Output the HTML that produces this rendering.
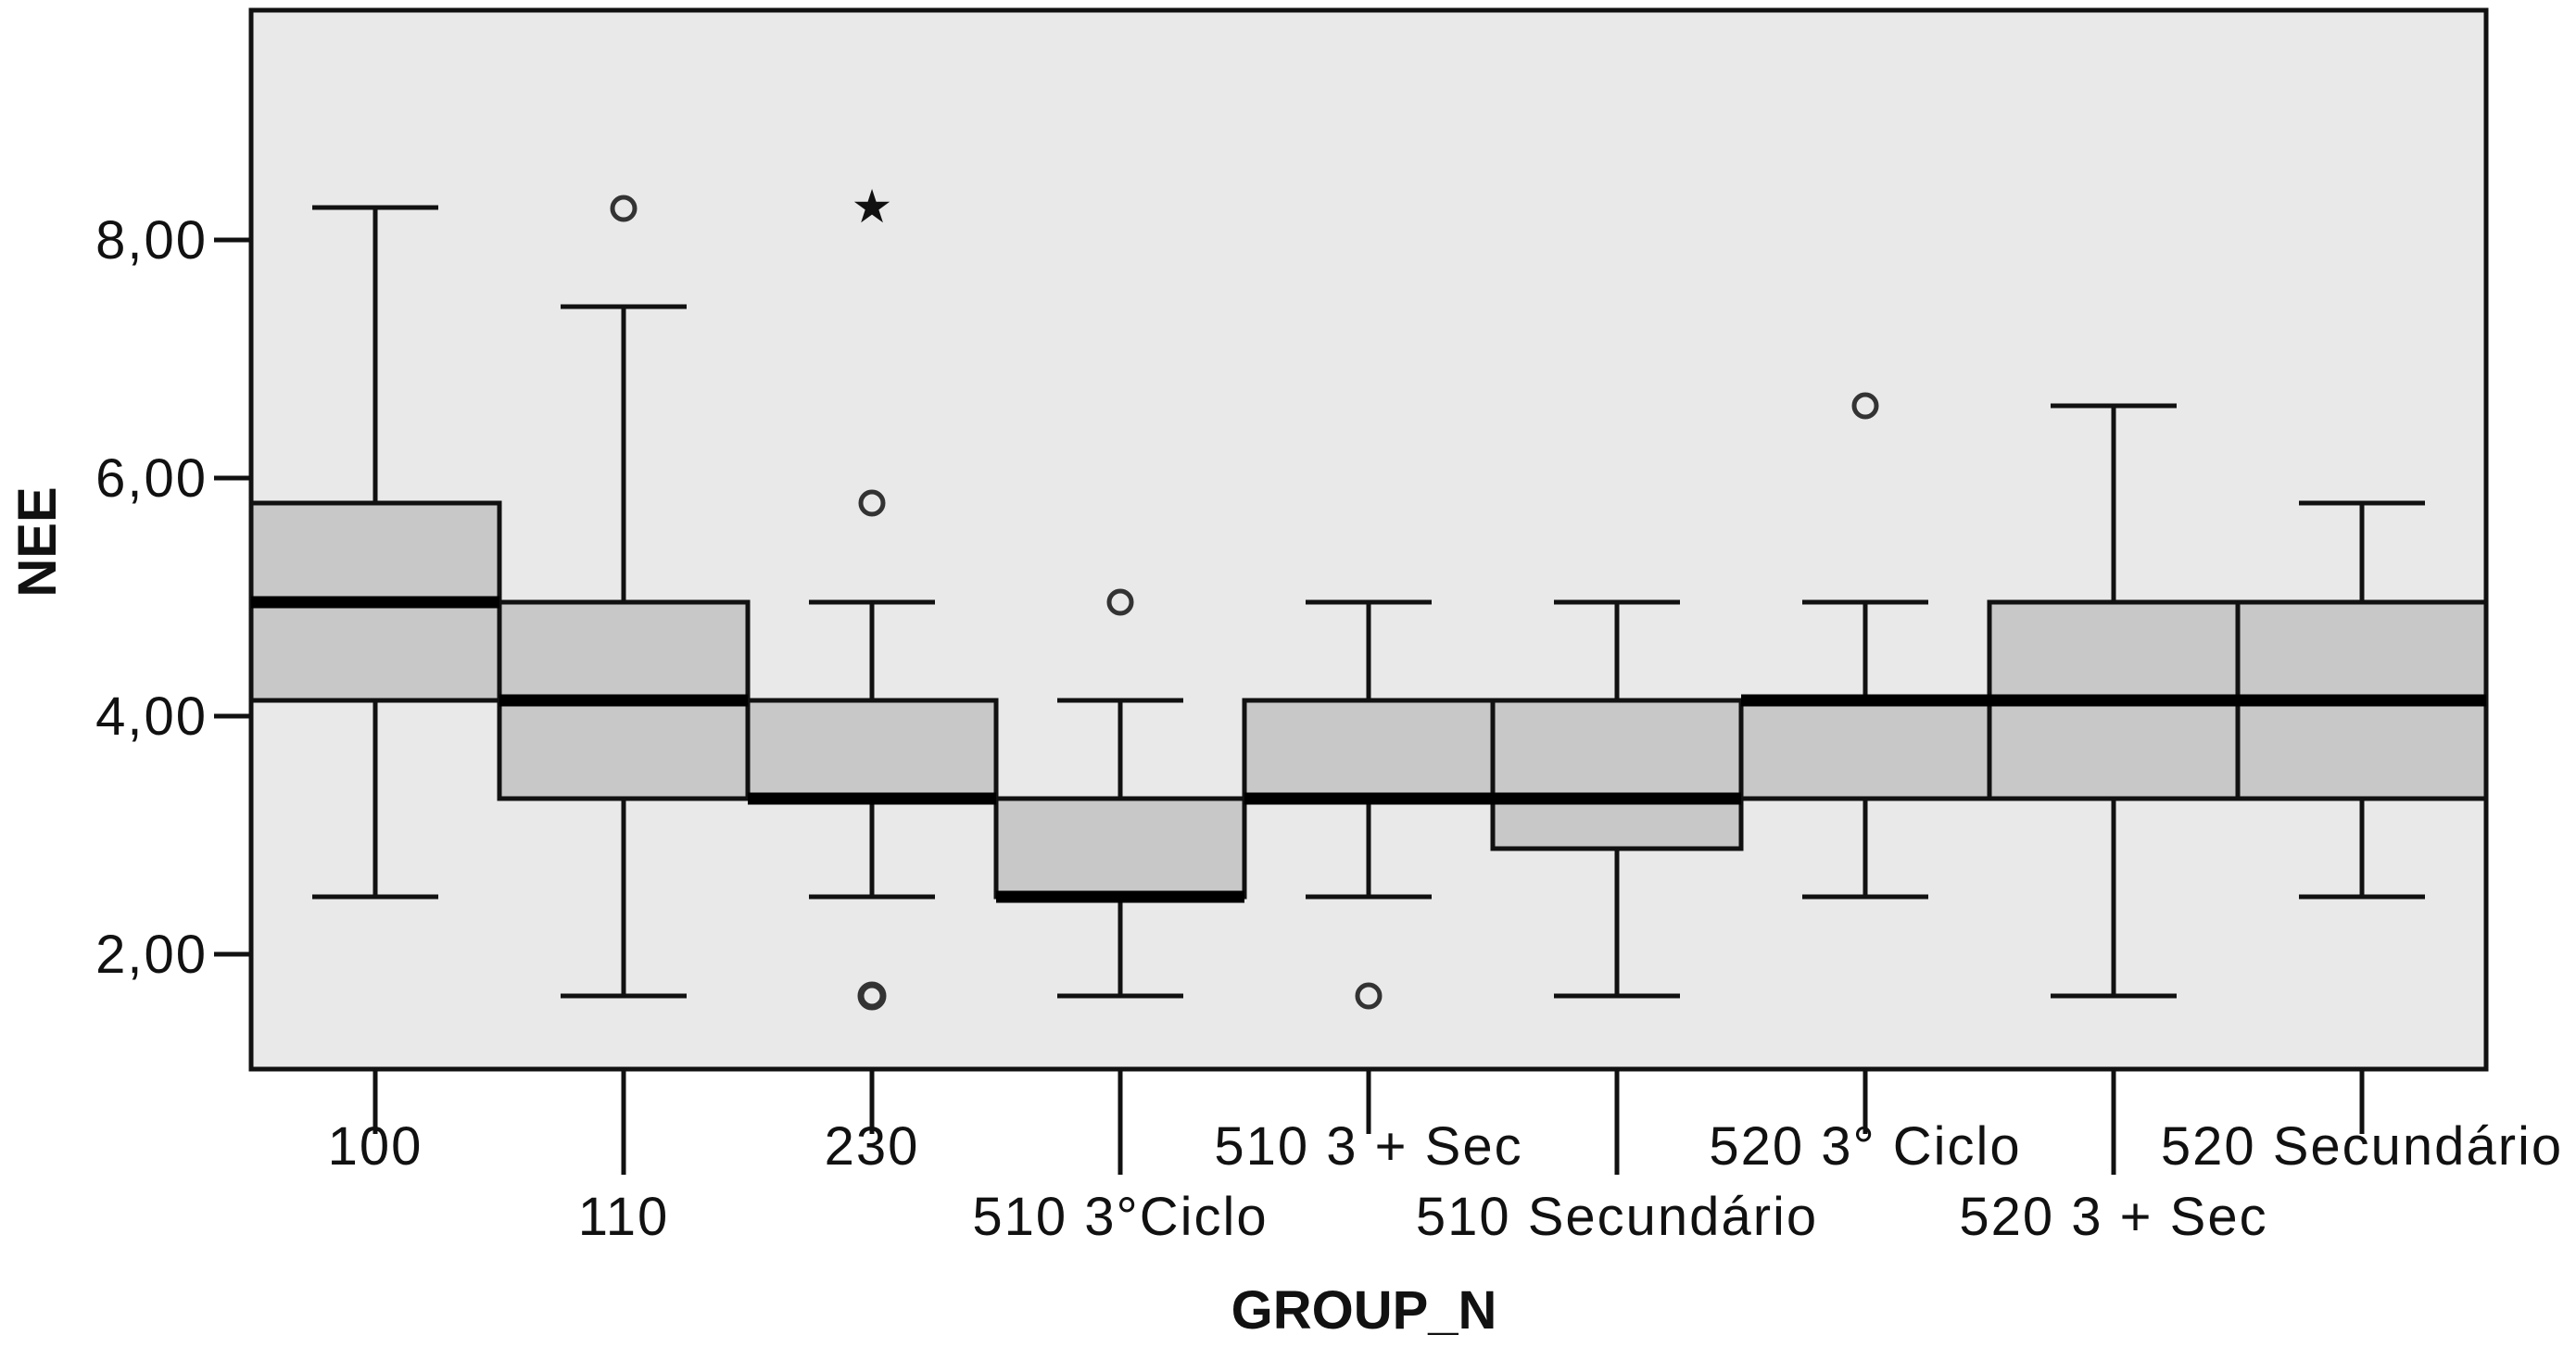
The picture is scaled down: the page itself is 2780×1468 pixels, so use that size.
<!DOCTYPE html>
<html><head><meta charset="utf-8"><style>
html,body{margin:0;padding:0;background:#fff;}
svg{display:block;}
text{font-family:"Liberation Sans",sans-serif;fill:#111;}
.t{font-size:58px;letter-spacing:2px;}
.b{font-size:58px;font-weight:bold;}
</style></head><body>
<svg width="2780" height="1468" viewBox="0 0 2780 1468" xmlns="http://www.w3.org/2000/svg">
<rect x="271" y="11" width="2412" height="1143" fill="#e9e9e9" stroke="#111" stroke-width="5"/>
<g stroke="#111" stroke-width="5" fill="none">
<line x1="405" y1="224" x2="405" y2="543"/><line x1="405" y1="756" x2="405" y2="968"/>
<line x1="337" y1="224" x2="473" y2="224"/><line x1="337" y1="968" x2="473" y2="968"/>
<line x1="673" y1="331" x2="673" y2="650"/><line x1="673" y1="862" x2="673" y2="1075"/>
<line x1="605" y1="331" x2="741" y2="331"/><line x1="605" y1="1075" x2="741" y2="1075"/>
<line x1="941" y1="650" x2="941" y2="756"/><line x1="941" y1="862" x2="941" y2="968"/>
<line x1="873" y1="650" x2="1009" y2="650"/><line x1="873" y1="968" x2="1009" y2="968"/>
<line x1="1209" y1="756" x2="1209" y2="862"/><line x1="1209" y1="968" x2="1209" y2="1075"/>
<line x1="1141" y1="756" x2="1277" y2="756"/><line x1="1141" y1="1075" x2="1277" y2="1075"/>
<line x1="1477" y1="650" x2="1477" y2="756"/><line x1="1477" y1="862" x2="1477" y2="968"/>
<line x1="1409" y1="650" x2="1545" y2="650"/><line x1="1409" y1="968" x2="1545" y2="968"/>
<line x1="1745" y1="650" x2="1745" y2="756"/><line x1="1745" y1="916" x2="1745" y2="1075"/>
<line x1="1677" y1="650" x2="1813" y2="650"/><line x1="1677" y1="1075" x2="1813" y2="1075"/>
<line x1="2013" y1="650" x2="2013" y2="756"/><line x1="2013" y1="862" x2="2013" y2="968"/>
<line x1="1945" y1="650" x2="2081" y2="650"/><line x1="1945" y1="968" x2="2081" y2="968"/>
<line x1="2281" y1="438" x2="2281" y2="650"/><line x1="2281" y1="862" x2="2281" y2="1075"/>
<line x1="2213" y1="438" x2="2349" y2="438"/><line x1="2213" y1="1075" x2="2349" y2="1075"/>
<line x1="2549" y1="543" x2="2549" y2="650"/><line x1="2549" y1="862" x2="2549" y2="968"/>
<line x1="2481" y1="543" x2="2617" y2="543"/><line x1="2481" y1="968" x2="2617" y2="968"/>
</g>
<g fill="#c8c8c8" stroke="#111" stroke-width="5">
<rect x="271" y="543" width="268" height="213"/>
<rect x="539" y="650" width="268" height="212"/>
<rect x="807" y="756" width="268" height="106"/>
<rect x="1075" y="862" width="268" height="106"/>
<rect x="1343" y="756" width="268" height="106"/>
<rect x="1611" y="756" width="268" height="160"/>
<rect x="1879" y="756" width="268" height="106"/>
<rect x="2147" y="650" width="268" height="212"/>
<rect x="2415" y="650" width="268" height="212"/>
</g>
<g stroke="#000" stroke-width="13">
<line x1="271" y1="650" x2="539" y2="650"/>
<line x1="539" y1="756" x2="807" y2="756"/>
<line x1="807" y1="862" x2="1075" y2="862"/>
<line x1="1075" y1="968" x2="1343" y2="968"/>
<line x1="1343" y1="862" x2="1611" y2="862"/>
<line x1="1611" y1="862" x2="1879" y2="862"/>
<line x1="1879" y1="756" x2="2147" y2="756"/>
<line x1="2147" y1="756" x2="2415" y2="756"/>
<line x1="2415" y1="756" x2="2683" y2="756"/>
</g>
<g fill="none" stroke="#333" stroke-width="5">
<circle cx="673" cy="225" r="12"/>
<circle cx="941" cy="543" r="12"/>
<circle cx="941" cy="1075" r="12" stroke-width="7"/>
<circle cx="1209" cy="650" r="12"/>
<circle cx="1477" cy="1075" r="12"/>
<circle cx="2013" cy="438" r="12"/>
</g>
<text x="941" y="240" text-anchor="middle" style="font-size:50px;fill:#111">★</text>
<g stroke="#111" stroke-width="5">
<line x1="231" y1="259" x2="271" y2="259"/>
<line x1="231" y1="516" x2="271" y2="516"/>
<line x1="231" y1="773" x2="271" y2="773"/>
<line x1="231" y1="1030" x2="271" y2="1030"/>
<line x1="405" y1="1154" x2="405" y2="1224"/>
<line x1="673" y1="1154" x2="673" y2="1268"/>
<line x1="941" y1="1154" x2="941" y2="1224"/>
<line x1="1209" y1="1154" x2="1209" y2="1268"/>
<line x1="1477" y1="1154" x2="1477" y2="1224"/>
<line x1="1745" y1="1154" x2="1745" y2="1268"/>
<line x1="2013" y1="1154" x2="2013" y2="1224"/>
<line x1="2281" y1="1154" x2="2281" y2="1268"/>
<line x1="2549" y1="1154" x2="2549" y2="1224"/>
</g>
<g class="t" text-anchor="end">
<text x="224" y="279">8,00</text>
<text x="224" y="536">6,00</text>
<text x="224" y="793">4,00</text>
<text x="224" y="1050">2,00</text>
</g>
<g class="t" text-anchor="middle">
<text x="405" y="1257">100</text>
<text x="673" y="1333">110</text>
<text x="941" y="1257">230</text>
<text x="1209" y="1333">510 3°Ciclo</text>
<text x="1477" y="1257">510 3 + Sec</text>
<text x="1745" y="1333">510 Secundário</text>
<text x="2013" y="1257">520 3° Ciclo</text>
<text x="2281" y="1333">520 3 + Sec</text>
<text x="2549" y="1257">520 Secundário</text>
</g>
<text class="b" x="1472" y="1434" text-anchor="middle">GROUP_N</text>
<text class="b" x="0" y="0" text-anchor="middle" transform="translate(60,585) rotate(-90)">NEE</text>
</svg>
</body></html>
